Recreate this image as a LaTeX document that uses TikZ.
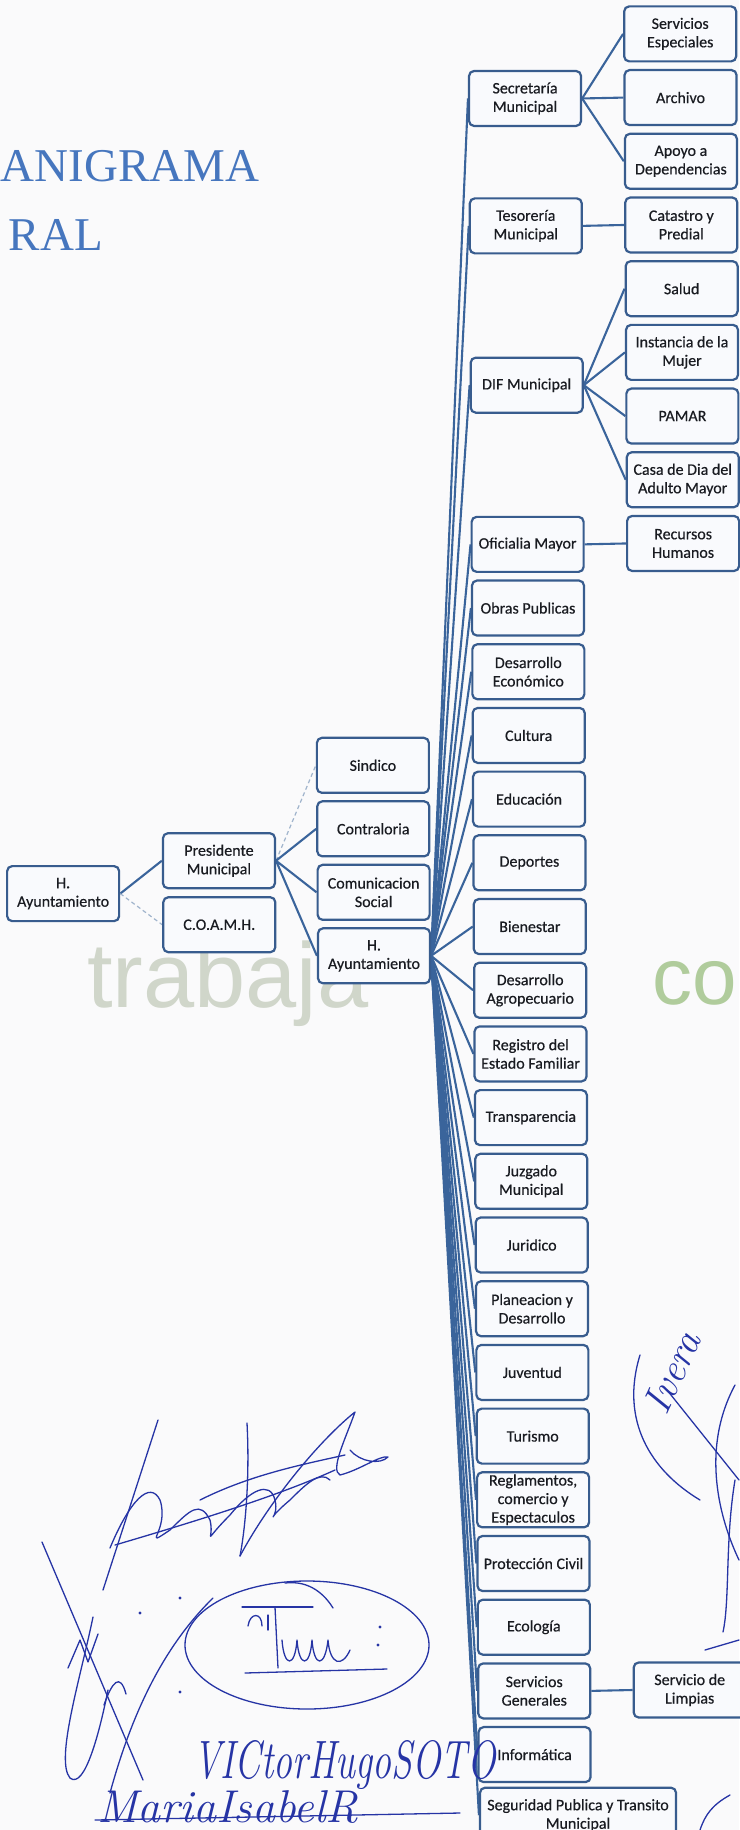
\documentclass[tikz,border=0pt]{standalone}
\usepackage{fontspec}
\usepackage{graphicx}
\setmainfont{Carlito}[FakeBold=0.5]
\newfontfamily\titlefont{Liberation Serif}
\newfontfamily\wmfont{Liberation Sans}
\newfontfamily\handfont{Latin Modern Roman}
\pgfdeclarelayer{bglayer}
\pgfsetlayers{bglayer,main}
\definecolor{boxline}{RGB}{56,92,142}
\definecolor{conn}{RGB}{58,100,155}
\definecolor{dashc}{RGB}{160,180,204}
\definecolor{boxfill}{RGB}{249,250,253}
\definecolor{titlec}{RGB}{70,118,190}
\definecolor{ink}{RGB}{38,52,165}
\definecolor{wmgray}{RGB}{208,214,202}
\definecolor{wmgreen}{RGB}{176,204,156}
\definecolor{pagebg}{RGB}{250,250,251}
\definecolor{txt}{RGB}{25,27,33}
\tikzset{
  orgbox/.style={draw=boxline, line width=2.2pt, fill=boxfill, rounded corners=5pt,
    minimum width=112pt, minimum height=55pt, inner xsep=2pt, inner ysep=1pt,
    align=center, text=txt, font=\fontsize{16}{18.5}\selectfont},
  link/.style={draw=conn, line width=2.1pt},
  dlink/.style={draw=dashc, line width=1.2pt, dash pattern=on 4pt off 3pt},
  inkline/.style={draw=ink, line width=1.3pt, line cap=round, line join=round},
  handtext/.style={text=ink, inner sep=0pt, font=\handfont\itshape\fontsize{#1}{#1}\selectfont},
}
\begin{document}
\begin{tikzpicture}[x=1pt,y=-1pt]
\begin{pgfonlayer}{bglayer}
\fill[pagebg] (0,0) rectangle (739,1830);
\end{pgfonlayer}
\useasboundingbox (0,0) rectangle (739,1830);

% title
\node[anchor=base west, inner sep=0pt, text=titlec, font=\titlefont\fontsize{47}{57}\selectfont] (title1) at (0.5,182) {ANIGRAMA};
\node[anchor=base east, inner sep=0pt, text=titlec, font=\titlefont\fontsize{47}{57}\selectfont] (title2) at (103,250) {RAL};

\begin{scope}[rotate=0.33]
% left part
\node[orgbox] (hay1) at (58,894) {H.\\Ayuntamiento};
\node[orgbox] (pres) at (214,862) {Presidente\\Municipal};
\node[orgbox] (coamh) at (214,926) {C.O.A.M.H.};
\node[orgbox] (sind) at (368.5,767.5) {Sindico};
\node[orgbox] (contr) at (368.5,831) {Contraloria};
\node[orgbox] (comun) at (368.5,894.5) {Comunicacion\\Social};
\node[orgbox] (hay2) at (368.5,958) {H.\\Ayuntamiento};

% middle column
\node[orgbox] (m1) at (524.5,101.5) {Secretaría\\Municipal};
\node[orgbox] (m3) at (524.5,228.9) {Tesorería\\Municipal};
\node[orgbox] (dif) at (524.5,388.2) {DIF Municipal};
\node[orgbox] (m8) at (524.5,547.4) {Oficialia Mayor};
\node[orgbox] (m9) at (524.5,611.1) {Obras Publicas};
\node[orgbox] (m10) at (524.5,674.8) {Desarrollo\\Económico};
\node[orgbox] (m11) at (524.5,738.5) {Cultura};
\node[orgbox] (m12) at (524.5,802.2) {Educación};
\node[orgbox] (m13) at (524.5,865.9) {Deportes};
\node[orgbox] (m14) at (524.5,929.6) {Bienestar};
\node[orgbox] (m15) at (524.5,993.3) {Desarrollo\\Agropecuario};
\node[orgbox] (m16) at (524.5,1057.0) {Registro del\\Estado Familiar};
\node[orgbox] (m17) at (524.5,1120.7) {Transparencia};
\node[orgbox] (m18) at (524.5,1184.4) {Juzgado\\Municipal};
\node[orgbox] (m19) at (524.5,1248.1) {Juridico};
\node[orgbox] (m20) at (524.5,1311.8) {Planeacion y\\Desarrollo};
\node[orgbox] (m21) at (524.5,1375.5) {Juventud};
\node[orgbox] (m22) at (524.5,1439.2) {Turismo};
\node[orgbox] (m23) at (524.5,1502.9) {Reglamentos,\\comercio y\\Espectaculos};
\node[orgbox] (m24) at (524.5,1566.6) {Protección Civil};
\node[orgbox] (m25) at (524.5,1630.3) {Ecología};
\node[orgbox] (m26) at (524.5,1694.0) {Servicios\\Generales};
\node[orgbox] (m27) at (524.5,1757.7) {Informática};
\node[orgbox, anchor=west, minimum width=196pt] (m28) at (468.5,1818) {Seguridad Publica y Transito\\Municipal};

% right column
\node[orgbox] (r0) at (680,37.8) {Servicios\\Especiales};
\node[orgbox] (r1) at (680,101.5) {Archivo};
\node[orgbox] (r2) at (680,165.2) {Apoyo a\\Dependencias};
\node[orgbox] (r3) at (680,228.9) {Catastro y\\Predial};
\node[orgbox] (r4) at (680,292.6) {Salud};
\node[orgbox] (r5) at (680,356.3) {Instancia de la\\Mujer};
\node[orgbox] (r6) at (680,420.0) {PAMAR};
\node[orgbox] (r7) at (680,483.7) {Casa de Dia del\\Adulto Mayor};
\node[orgbox] (r8) at (680,547.4) {Recursos\\Humanos};
\node[orgbox] (r26) at (680,1694.0) {Servicio de\\Limpias};
\end{scope}

\begin{pgfonlayer}{bglayer}
% watermark
\node[anchor=base west, inner sep=0pt, text=wmgray, font=\wmfont\fontsize{92}{92}\selectfont] (wm1) at (87,1007) {trabaja};
\node[anchor=base east, inner sep=0pt, text=wmgreen, font=\wmfont\fontsize{80}{80}\selectfont] (wm2) at (737,1004) {co};
% connectors
\draw[link] (hay1.east) -- (pres.west);
\draw[dlink] (hay1.east) -- (coamh.west);
\draw[dlink] (pres.east) -- (sind.west);
\foreach \n in {contr,comun,hay2} \draw[link] (pres.east) -- (\n.west);
\foreach \n in {m1,m3,dif,m8,m9,m10,m11,m12,m13,m14,m15,m16,m17,m18,m19,m20,m21,m22,m23,m24,m25,m26,m27,m28}
  \draw[link] (hay2.east) -- (\n.west);
\foreach \n in {r0,r1,r2} \draw[link] (m1.east) -- (\n.west);
\draw[link] (m3.east) -- (r3.west);
\foreach \n in {r4,r5,r6,r7} \draw[link] (dif.east) -- (\n.west);
\draw[link] (m8.east) -- (r8.west);
\draw[link] (m26.east) -- (r26.west);
\end{pgfonlayer}

% handwritten signatures
\draw[inkline] (158,1420) -- (103,1590);
\draw[inkline] (110,1548) .. controls (130,1500) and (150,1480) .. (160,1500)
  .. controls (170,1530) and (140,1550) .. (170,1530)
  .. controls (190,1510) and (200,1500) .. (210,1520)
  .. controls (215,1540) and (200,1545) .. (230,1515)
  .. controls (250,1490) and (270,1480) .. (275,1500)
  .. controls (280,1520) and (260,1525) .. (290,1500)
  .. controls (305,1485) and (320,1470) .. (330,1480);
\draw[inkline] (115,1545) .. controls (200,1520) and (280,1495) .. (335,1470);
\draw[inkline] (200,1500) .. controls (250,1475) and (300,1465) .. (345,1455);
\draw[inkline] (247,1423) .. controls (250,1480) and (245,1530) .. (240,1556);
\draw[inkline] (240,1556) .. controls (270,1500) and (320,1440) .. (355,1412)
  .. controls (345,1440) and (330,1470) .. (340,1475)
  .. controls (360,1470) and (380,1455) .. (388,1457)
  .. controls (380,1465) and (360,1462) .. (350,1450);
\draw[inkline] (42,1542) -- (143,1780);
\draw[inkline] (213,1598) .. controls (160,1650) and (130,1720) .. (110,1793);
\draw[inkline] (93,1617) .. controls (80,1680) and (55,1760) .. (70,1778)
  .. controls (85,1790) and (100,1730) .. (108,1690);
\draw[inkline] (68,1668) -- (80,1640) -- (88,1662) -- (98,1634);
\draw[inkline] (104,1705) .. controls (112,1682) and (120,1672) .. (126,1694);
\draw[inkline] (307,1645) ellipse [x radius=122pt, y radius=64pt];
\draw[inkline] (285,1583) .. controls (310,1580) and (325,1595) .. (333,1608);
\draw[inkline] (242,1607) -- (313,1607);
\draw[inkline] (275,1607) -- (278,1668);
\draw[inkline] (282,1640) .. controls (284,1668) and (295,1668) .. (297,1640)
  .. controls (299,1668) and (310,1668) .. (312,1640)
  .. controls (314,1668) and (325,1668) .. (328,1640)
  .. controls (330,1665) and (342,1668) .. (350,1650);
\draw[inkline] (245,1673) -- (387,1669);
\draw[inkline] (248,1626) .. controls (250,1612) and (262,1612) .. (262,1626);
\draw[inkline] (268,1615) -- (268,1630);
\foreach \p in {(180,1598),(140,1613),(180,1692),(380,1627),(378,1645)}
  \fill[ink] \p circle (1.6pt);
\node[handtext=54, anchor=base west] (sigA) at (193,1778) {\scalebox{0.7}[1]{VICtorHugoSOTO}};
\node[handtext=46, anchor=base west] (sigB) at (97,1822) {MariaIsabelR};
\draw[inkline] (95,1820) -- (460,1813);
\node[handtext=40, rotate=65] (sigC) at (672,1372) {Ivera};
\draw[inkline] (640,1355) .. controls (620,1420) and (650,1470) .. (700,1500);
\draw[inkline] (667,1390) -- (739,1480);
\draw[inkline] (735,1385) .. controls (700,1450) and (720,1520) .. (739,1560);
\draw[inkline] (735,1480) .. controls (725,1540) and (730,1600) .. (723,1632);
\draw[inkline] (705,1650) -- (739,1640);
\draw[inkline] (730,1795) .. controls (712,1805) and (705,1815) .. (700,1830);
\end{tikzpicture}
\end{document}
